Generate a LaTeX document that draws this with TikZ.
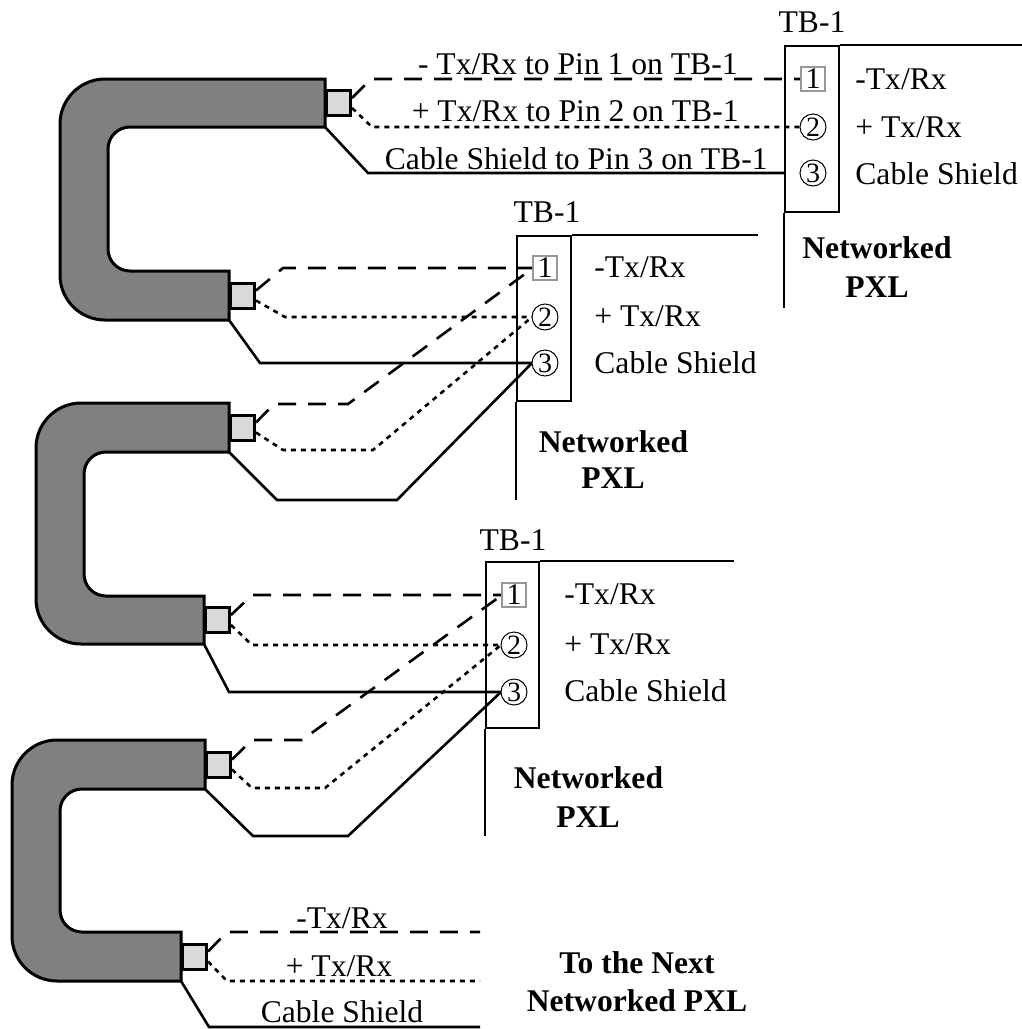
\documentclass[tikz,border=0pt]{standalone}
\usepackage{fontspec}
\setmainfont{Liberation Serif}
\usetikzlibrary{positioning,calc}
\definecolor{cablegray}{RGB}{128,128,128}
\definecolor{pluggray}{RGB}{217,217,217}
\definecolor{pinframe}{RGB}{150,150,150}

\begin{document}
\begin{tikzpicture}[x=0.5pt,y=-0.5pt,
	every node/.style={font=\fontsize{15.8}{18}\selectfont,inner sep=0pt},
	cablebody/.style={draw,fill=cablegray,line width=1.5pt},
	plug/.style={rectangle,draw,fill=pluggray,line width=1.5pt,minimum width=12pt,minimum height=12.5pt,anchor=west},
	tbbox/.style={rectangle,draw,line width=1pt,minimum width=27pt,minimum height=83pt},
	pinsq/.style={rectangle,draw=pinframe,fill=white,line width=0.6pt,minimum size=12pt,font=\fontsize{15}{15}\selectfont},
	pinci/.style={circle,draw,fill=white,line width=0.5pt,minimum size=13pt,font=\fontsize{14}{14}\selectfont},
	negw/.style={line width=1.3pt,dash pattern=on 9pt off 6pt},
	posw/.style={line width=1.3pt,dash pattern=on 2.5pt off 2.5pt},
	shieldw/.style={line width=1.3pt},
	tbline/.style={line width=1.3pt},
	pxl/.style={font=\fontsize{15.8}{18}\selectfont\bfseries,anchor=base},
	]
	\useasboundingbox (0,0) rectangle (1022,1029);

	% cables
	\draw[cablebody] (325,103) -- (325,79) [rounded corners=22.5pt] -- (60,79) -- (60,320) [sharp corners] -- (229,320) -- (229,271) [rounded corners=11pt] -- (108,271) -- (108,127) [sharp corners] -- (325,127) -- cycle;
	\draw[cablebody] (229,427.5) -- (229,403) [rounded corners=22.5pt] -- (36,403) -- (36,644) [sharp corners] -- (204,644) -- (204,596) [rounded corners=11pt] -- (84,596) -- (84,452) [sharp corners] -- (229,452) -- cycle;
	\draw[cablebody] (205,764.5) -- (205,740) [rounded corners=22.5pt] -- (12,740) -- (12,981) [sharp corners] -- (181,981) -- (181,932) [rounded corners=11pt] -- (60,932) -- (60,789) [sharp corners] -- (205,789) -- cycle;
	\node[plug] (c1a) at (325,103) {};
	\node[plug] (c1b) at (229,295.5) {};
	\node[plug] (c2a) at (229,427.5) {};
	\node[plug] (c2b) at (204,620) {};
	\node[plug] (c3a) at (205,764.5) {};
	\node[plug] (c3b) at (181,956.5) {};

	% terminal blocks
	\node[tbbox] (t1) at (812,129) {};
	\node[tbbox,minimum height=82.5pt] (t2) at (544,318.5) {};
	\node[tbbox,minimum width=26.5pt] (t3) at (512.5,645) {};
	\draw[tbline] (t1.north east) -- ++(183,0);
	\draw[tbline] (t1.south west) -- ++(0,95);
	\draw[tbline] (t2.north east) -- ++(186,0);
	\draw[tbline] (t2.south west) -- ++(0,98);
	\draw[tbline] (t3.north east) -- ++(194,0);
	\draw[tbline] (t3.south west) -- ++(0,107);

	% wires from cable 1
	\draw[negw] ([yshift=2.5pt]c1a.east) -- (371,79) -- (813,79);
	\draw[posw] ([yshift=-2.5pt]c1a.east) -- (372,127) -- (813,127);
	\draw[shieldw] ([yshift=-12pt]c1a.west) -- (368,173) -- (785,173);
	\draw[negw] ([yshift=2.5pt]c1b.east) -- (283,268) -- (545,268);
	\draw[posw] ([yshift=-2.5pt]c1b.east) -- (285,317) -- (545,317);
	\draw[shieldw] ([yshift=-12.25pt]c1b.west) -- (260,363) -- (545,363);
	% wires from cable 2
	\draw[negw] ([yshift=2.5pt]c2a.east) -- (274,404) -- (348,404) -- (533,268);
	\draw[posw] ([yshift=-2.5pt]c2a.east) -- (283,450) -- (373,450) -- (532,317);
	\draw[shieldw] ([yshift=-12.25pt]c2a.west) -- (277,500) -- (397,500) -- (532,363);
	\draw[negw] ([yshift=2.5pt]c2b.east) -- (252,595) -- (514,595);
	\draw[posw] ([yshift=-2.5pt]c2b.east) -- (252,645) -- (514,645);
	\draw[shieldw] ([yshift=-12pt]c2b.west) -- (229,692) -- (514,692);
	% wires from cable 3
	\draw[negw] ([yshift=2.5pt]c3a.east) -- (252,740) -- (302,740) -- (502,595);
	\draw[posw] ([yshift=-2.5pt]c3a.east) -- (252,788) -- (325,788) -- (501,645);
	\draw[shieldw] ([yshift=-12.25pt]c3a.west) -- (253,836) -- (348,836) -- (501,692);
	\coordinate (nx1) at (480,932);
	\coordinate (nx2) at (480,981);
	\coordinate (nx3) at (480,1027);
	\draw[negw] ([yshift=2.5pt]c3b.east) -- (227,932) -- (nx1);
	\draw[posw] ([yshift=-2.5pt]c3b.east) -- (227,981) -- (nx2);
	\draw[shieldw] ([yshift=-12.25pt]c3b.west) -- (209,1027) -- (nx3);

	% pins
	\node[pinsq] (t1n1) at (813,79) {1};
	\node[pinci] (t1n2) at (813,127) {2};
	\node[pinci] (t1n3) at (813,173) {3};
	\node[pinsq] (t2n1) at (545,268) {1};
	\node[pinci] (t2n2) at (545,317) {2};
	\node[pinci] (t2n3) at (545,363) {3};
	\node[pinsq] (t3n1) at (514,595) {1};
	\node[pinci] (t3n2) at (514,645) {2};
	\node[pinci] (t3n3) at (514,692) {3};

	% labels
	\node[anchor=base east] (w1) at (738,74) {- Tx/Rx to Pin 1 on TB-1};
	\node[anchor=base east] (w2) at (739,121) {+ Tx/Rx to Pin 2 on TB-1};
	\node[anchor=base east] (w3) at (768,169) {Cable Shield to Pin 3 on TB-1};
	\node[anchor=base] (t1lab) at (812,32) {TB-1};
	\node[anchor=base] (t2lab) at (547,222) {TB-1};
	\node[anchor=base] (t3lab) at (513,550) {TB-1};
	\node[anchor=base west] (t1a) at (855,89) {-Tx/Rx};
	\node[anchor=base west] (t1b) at (855,137) {+ Tx/Rx};
	\node[anchor=base west] (t1c) at (855,184) {Cable Shield};
	\node[anchor=base west] (t2a) at (594,277) {-Tx/Rx};
	\node[anchor=base west] (t2b) at (594,326) {+ Tx/Rx};
	\node[anchor=base west] (t2c) at (594,373) {Cable Shield};
	\node[anchor=base west] (t3a) at (564,604) {-Tx/Rx};
	\node[anchor=base west] (t3b) at (564,654) {+ Tx/Rx};
	\node[anchor=base west] (t3c) at (564,701) {Cable Shield};
	\node[pxl] (t1p) at (877,258) {Networked};
	\node[pxl] (t1q) at (877,297) {PXL};
	\node[pxl] (t2p) at (613.5,452) {Networked};
	\node[pxl] (t2q) at (613,488) {PXL};
	\node[pxl] (t3p) at (588.5,788) {Networked};
	\node[pxl] (t3q) at (588,827) {PXL};
	\node[anchor=base] (nxa) at (342,928) {-Tx/Rx};
	\node[anchor=base] (nxb) at (339,976) {+ Tx/Rx};
	\node[anchor=base] (nxc) at (342,1022) {Cable Shield};
	\node[pxl] (nxp) at (637,973) {To the Next};
	\node[pxl] (nxq) at (637,1011) {Networked PXL};
\end{tikzpicture}
\end{document}
